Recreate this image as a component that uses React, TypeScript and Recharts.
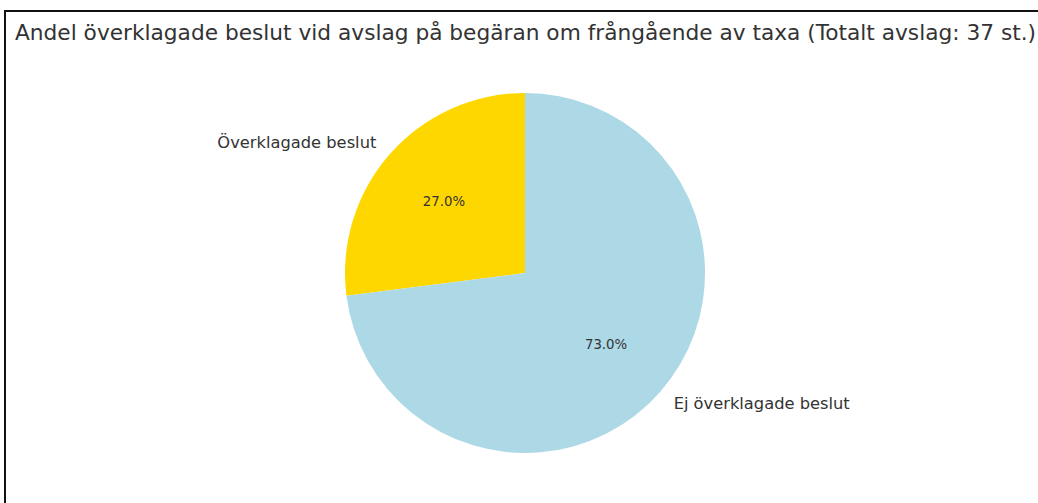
import { PieChart, Pie, Cell } from 'recharts';

const labels = ['Överklagade beslut', 'Ej överklagade beslut'];
const values = [10, 27];
const colors = ['#FFD700', '#ADD8E6'];
const title = 'Andel överklagade beslut vid avslag på begäran om frångående av taxa (Totalt avslag: 37 st.)';

const data = labels.map((name, i) => ({ name, value: values[i] }));

const RADIAN = Math.PI / 180;
const FONT = '"DejaVu Sans", sans-serif';

function renderLabel({ cx, cy, midAngle, outerRadius, percent, name }: any) {
  const cos = Math.cos(-midAngle * RADIAN);
  const sin = Math.sin(-midAngle * RADIAN);
  const lx = cx + outerRadius * 1.1 * cos;
  const ly = cy + outerRadius * 1.1 * sin;
  const px = cx + outerRadius * 0.6 * cos;
  const py = cy + outerRadius * 0.6 * sin;
  return (
    <g>
      <text
        x={lx}
        y={ly}
        textAnchor={cos >= 0 ? 'start' : 'end'}
        dominantBaseline="central"
        fill="#333"
        fontSize={16.3}
        fontFamily={FONT}
      >
        {name}
      </text>
      <text
        x={px}
        y={py}
        textAnchor="middle"
        dominantBaseline="central"
        fill="#333"
        fontSize={13.3}
        fontFamily={FONT}
      >
        {(percent * 100).toFixed(1)}%
      </text>
    </g>
  );
}

export default function App() {
  return (
    <div
      style={{
        position: 'absolute',
        left: 0,
        top: 0,
        width: 1038,
        height: 503,
        overflow: 'hidden',
        background: '#fff',
      }}
    >
      <div
        style={{
          position: 'absolute',
          left: 4,
          top: 10,
          width: 1060,
          height: 520,
          border: '2px solid #111',
          boxSizing: 'border-box',
        }}
      />
      <div
        style={{
          position: 'absolute',
          left: 15,
          top: 19,
          whiteSpace: 'nowrap',
          fontFamily: FONT,
          fontSize: 21.7,
          lineHeight: '28px',
          color: '#333',
        }}
      >
        {title}
      </div>
      <div style={{ position: 'absolute', left: 0, top: 0 }}>
        <PieChart width={1038} height={503} margin={{ top: 0, right: 0, bottom: 0, left: 0 }}>
          <Pie
            data={data}
            dataKey="value"
            nameKey="name"
            cx={525}
            cy={273}
            outerRadius={180}
            startAngle={90}
            endAngle={450}
            stroke="none"
            label={renderLabel}
            labelLine={false}
            isAnimationActive={false}
          >
            {data.map((d, i) => (
              <Cell key={d.name} fill={colors[i]} />
            ))}
          </Pie>
        </PieChart>
      </div>
    </div>
  );
}
